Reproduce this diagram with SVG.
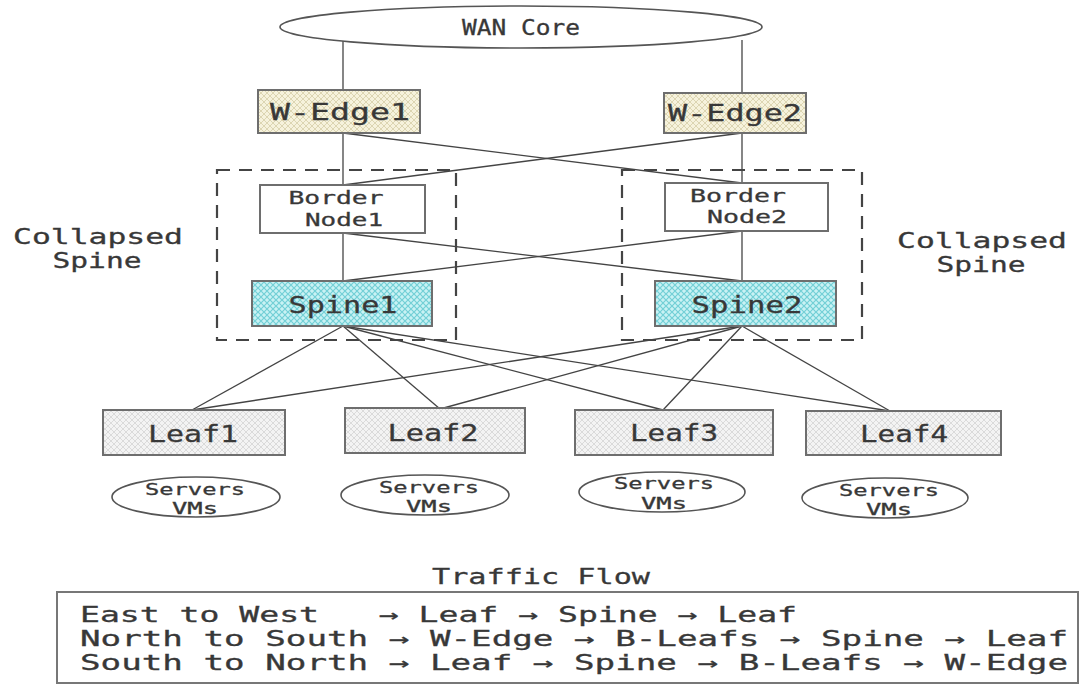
<svg xmlns="http://www.w3.org/2000/svg" width="1081" height="686" viewBox="0 0 1081 686">
<style>
text{font-family:"DejaVu Sans Mono","Liberation Mono",monospace;fill:#383838;stroke:#383838;stroke-width:0.3;}
.box{stroke:#6e6e6e;stroke-width:2;}
.ell{fill:#fff;stroke:#555;stroke-width:1.6;}
.dash{fill:none;stroke:#444;stroke-width:2.2;stroke-dasharray:13 9;}
.conn line{stroke:#444;stroke-width:1.3;}
.t23{font-size:23px;}
.t18{font-size:18px;}
.t16{font-size:15px;}
.t21{font-size:21px;}
.t22{font-size:22px;}
.tf{font-size:21px;}
</style>
<defs>
<pattern id="pY" width="6" height="6" patternUnits="userSpaceOnUse">
<rect width="6" height="6" fill="#f6f2dc"/>
<path d="M0 0L6 6M6 0L0 6" stroke="#dcd5b2" stroke-width="1"/>
</pattern>
<pattern id="pC" width="6" height="6" patternUnits="userSpaceOnUse">
<rect width="6" height="6" fill="#c9f2f4"/>
<path d="M0 0L6 6M6 0L0 6" stroke="#72cfd6" stroke-width="1.2"/>
</pattern>
<pattern id="pG" width="6" height="6" patternUnits="userSpaceOnUse">
<rect width="6" height="6" fill="#f3f3f3"/>
<path d="M0 0L6 6M6 0L0 6" stroke="#dadada" stroke-width="1"/>
</pattern>
</defs>
<rect width="1081" height="686" fill="#fff"/>

<g id="connectors" class="conn">
<line x1="343" y1="40" x2="343" y2="90"/>
<line x1="742" y1="40" x2="742" y2="93"/>
<line x1="343" y1="133" x2="343" y2="185"/>
<line x1="742" y1="133" x2="742" y2="183"/>
<line x1="343" y1="133" x2="742" y2="183"/>
<line x1="742" y1="133" x2="343" y2="185"/>
<line x1="343" y1="233" x2="343" y2="281"/>
<line x1="742" y1="231" x2="742" y2="281"/>
<line x1="343" y1="233" x2="742" y2="281"/>
<line x1="742" y1="231" x2="343" y2="281"/>
<line x1="343" y1="326" x2="192" y2="410"/>
<line x1="343" y1="326" x2="440" y2="409"/>
<line x1="343" y1="326" x2="663" y2="410"/>
<line x1="343" y1="326" x2="890" y2="411"/>
<line x1="742" y1="326" x2="192" y2="410"/>
<line x1="742" y1="326" x2="440" y2="409"/>
<line x1="742" y1="326" x2="663" y2="410"/>
<line x1="742" y1="326" x2="890" y2="411"/>
</g>

<g id="wan-core">
<ellipse class="ell" cx="521" cy="27" rx="241" ry="21"/>
<text class="t22" x="521" y="35" text-anchor="middle" textLength="118" lengthAdjust="spacingAndGlyphs">WAN Core</text>
</g>

<g id="collapsed-left">
<rect class="dash" x="217" y="170" width="239" height="170"/>
<text class="t21" x="98" y="244" text-anchor="middle" textLength="170" lengthAdjust="spacingAndGlyphs">Collapsed</text>
<text class="t21" x="97" y="268" text-anchor="middle" textLength="89" lengthAdjust="spacingAndGlyphs">Spine</text>
</g>
<g id="collapsed-right">
<rect class="dash" x="622" y="170" width="240" height="170"/>
<text class="t21" x="982" y="248" text-anchor="middle" textLength="170" lengthAdjust="spacingAndGlyphs">Collapsed</text>
<text class="t21" x="981" y="272" text-anchor="middle" textLength="89" lengthAdjust="spacingAndGlyphs">Spine</text>
</g>

<g id="w-edge1">
<rect class="box" x="258" y="90" width="162" height="43" fill="url(#pY)"/>
<text class="t23" x="340" y="120" text-anchor="middle" textLength="140" lengthAdjust="spacingAndGlyphs">W-Edge1</text>
</g>
<g id="w-edge2">
<rect class="box" x="664" y="93" width="142" height="40" fill="url(#pY)"/>
<text class="t23" x="735" y="121" text-anchor="middle" textLength="134" lengthAdjust="spacingAndGlyphs">W-Edge2</text>
</g>

<g id="border-node1">
<rect class="box" x="260" y="185" width="165" height="48" fill="#fff"/>
<text class="t18" x="336" y="204" text-anchor="middle" textLength="95" lengthAdjust="spacingAndGlyphs">Border</text>
<text class="t18" x="344" y="226" text-anchor="middle" textLength="78" lengthAdjust="spacingAndGlyphs">Node1</text>
</g>
<g id="border-node2">
<rect class="box" x="665" y="183" width="163" height="48" fill="#fff"/>
<text class="t18" x="738" y="202" text-anchor="middle" textLength="96" lengthAdjust="spacingAndGlyphs">Border</text>
<text class="t18" x="747" y="223" text-anchor="middle" textLength="80" lengthAdjust="spacingAndGlyphs">Node2</text>
</g>

<g id="spine1">
<rect class="box" x="252" y="281" width="180" height="45" fill="url(#pC)" stroke="#555"/>
<text class="t23" x="343" y="313" text-anchor="middle" textLength="109" lengthAdjust="spacingAndGlyphs">Spine1</text>
</g>
<g id="spine2">
<rect class="box" x="655" y="281" width="181" height="45" fill="url(#pC)" stroke="#555"/>
<text class="t23" x="747" y="313" text-anchor="middle" textLength="111" lengthAdjust="spacingAndGlyphs">Spine2</text>
</g>

<g id="leaf1">
<rect class="box" x="103" y="410" width="182" height="45" fill="url(#pG)"/>
<text class="t23" x="193" y="442" text-anchor="middle" textLength="90" lengthAdjust="spacingAndGlyphs">Leaf1</text>
</g>
<g id="leaf2">
<rect class="box" x="345" y="408" width="180" height="45" fill="url(#pG)"/>
<text class="t23" x="433" y="441" text-anchor="middle" textLength="91" lengthAdjust="spacingAndGlyphs">Leaf2</text>
</g>
<g id="leaf3">
<rect class="box" x="575" y="410" width="198" height="45" fill="url(#pG)"/>
<text class="t23" x="674" y="441" text-anchor="middle" textLength="88" lengthAdjust="spacingAndGlyphs">Leaf3</text>
</g>
<g id="leaf4">
<rect class="box" x="806" y="411" width="195" height="44" fill="url(#pG)"/>
<text class="t23" x="904" y="442" text-anchor="middle" textLength="88" lengthAdjust="spacingAndGlyphs">Leaf4</text>
</g>

<g id="servers1">
<ellipse class="ell" cx="196" cy="497" rx="84" ry="20"/>
<text class="t16" x="195" y="495" text-anchor="middle" textLength="100" lengthAdjust="spacingAndGlyphs">Servers</text>
<text class="t16" x="195" y="514" text-anchor="middle" textLength="46" lengthAdjust="spacingAndGlyphs">VMs</text>
</g>
<g id="servers2">
<ellipse class="ell" cx="425" cy="495" rx="84" ry="20"/>
<text class="t16" x="429" y="493" text-anchor="middle" textLength="100" lengthAdjust="spacingAndGlyphs">Servers</text>
<text class="t16" x="429" y="512" text-anchor="middle" textLength="46" lengthAdjust="spacingAndGlyphs">VMs</text>
</g>
<g id="servers3">
<ellipse class="ell" cx="662" cy="492" rx="83" ry="20"/>
<text class="t16" x="664" y="489" text-anchor="middle" textLength="100" lengthAdjust="spacingAndGlyphs">Servers</text>
<text class="t16" x="664" y="509" text-anchor="middle" textLength="46" lengthAdjust="spacingAndGlyphs">VMs</text>
</g>
<g id="servers4">
<ellipse class="ell" cx="885" cy="498" rx="83" ry="20"/>
<text class="t16" x="889" y="496" text-anchor="middle" textLength="100" lengthAdjust="spacingAndGlyphs">Servers</text>
<text class="t16" x="889" y="515" text-anchor="middle" textLength="46" lengthAdjust="spacingAndGlyphs">VMs</text>
</g>

<g id="traffic-flow">
<text class="t22" x="541" y="584" text-anchor="middle" textLength="218" lengthAdjust="spacingAndGlyphs">Traffic Flow</text>
<rect x="57" y="592" width="1021" height="91" fill="#fff" stroke="#777" stroke-width="2"/>
<text class="tf" x="80" y="622" xml:space="preserve" textLength="717" lengthAdjust="spacingAndGlyphs">East to West   → Leaf → Spine → Leaf</text>
<text class="tf" x="80" y="646" xml:space="preserve" textLength="988" lengthAdjust="spacingAndGlyphs">North to South → W-Edge → B-Leafs → Spine → Leaf</text>
<text class="tf" x="80" y="670" xml:space="preserve" textLength="988" lengthAdjust="spacingAndGlyphs">South to North → Leaf → Spine → B-Leafs → W-Edge</text>
</g>
</svg>
